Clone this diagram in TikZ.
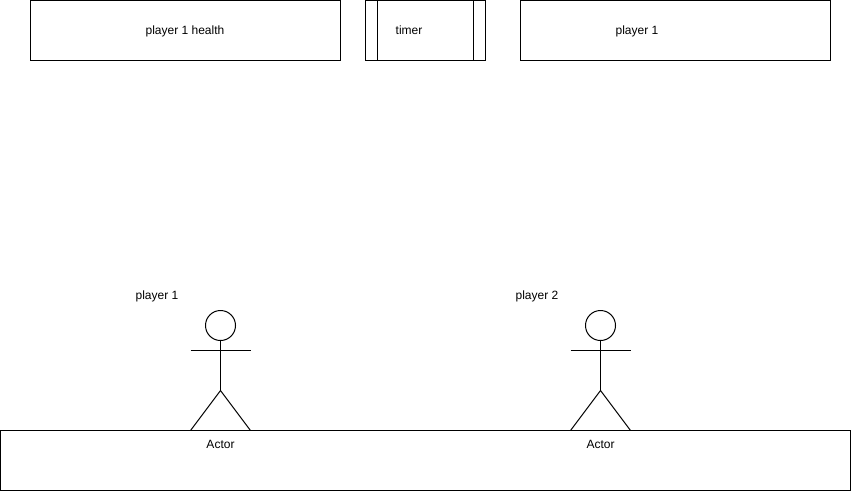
\documentclass[tikz,border=0pt]{standalone}
\usepackage{fontspec}
\setmainfont{Liberation Sans}
\usetikzlibrary{positioning}
\begin{document}
\begin{tikzpicture}[
  x=1pt, y=-1pt,
  font=\fontsize{12}{14}\selectfont,
  thinline/.style={draw=black, line width=1pt},
  bar/.style={thinline, fill=white, minimum height=60pt, inner sep=0pt, outer sep=0pt, anchor=north west},
  head/.style={thinline, circle, minimum size=30pt, inner sep=0pt, outer sep=0pt},
  label/.style={inner sep=0pt, anchor=base}
]
\useasboundingbox (0,0) rectangle (851,491);
% top row
\node[bar, minimum width=310pt] (health) at (30.5,0.5) {};
\node[label] (healthtext) at (185,34) {player 1 health};
\node[bar, minimum width=120pt] (timer) at (365.5,0.5) {};
\coordinate (timerleft) at (377.5,0.5);
\coordinate (timerleftb) at (377.5,60.5);
\coordinate (timerright) at (473.5,0.5);
\coordinate (timerrightb) at (473.5,60.5);
\draw[thinline] (timerleft) -- (timerleftb);
\draw[thinline] (timerright) -- (timerrightb);
\node[label] (timertext) at (409,34) {timer};
\node[bar, minimum width=310pt] (other) at (520.5,0.5) {};
\node[label] (othertext) at (637,34) {player 1};
% ground
\node[bar, minimum width=850pt] (ground) at (0.5,430.5) {};
% first actor
\node[label] (nameone) at (157,299) {player 1};
\node[head] (headone) at (220.5,325.5) {};
\coordinate (armsonel) at (190.5,350.5);
\coordinate (armsoner) at (250.5,350.5);
\coordinate (hipone) at (220.5,390.5);
\coordinate (footonel) at (190.5,430.5);
\coordinate (footoner) at (250.5,430.5);
\draw[thinline] (headone) -- (hipone);
\draw[thinline] (armsonel) -- (armsoner);
\draw[thinline] (footonel) -- (hipone) -- (footoner);
\node[label] (actorone) at (220.5,448) {Actor};
% second actor
\node[label] (nametwo) at (537,299) {player 2};
\node[head] (headtwo) at (600.5,325.5) {};
\coordinate (armstwol) at (570.5,350.5);
\coordinate (armstwor) at (630.5,350.5);
\coordinate (hiptwo) at (600.5,390.5);
\coordinate (foottwol) at (570.5,430.5);
\coordinate (foottwor) at (630.5,430.5);
\draw[thinline] (headtwo) -- (hiptwo);
\draw[thinline] (armstwol) -- (armstwor);
\draw[thinline] (foottwol) -- (hiptwo) -- (foottwor);
\node[label] (actortwo) at (600.5,448) {Actor};
\end{tikzpicture}
\end{document}
